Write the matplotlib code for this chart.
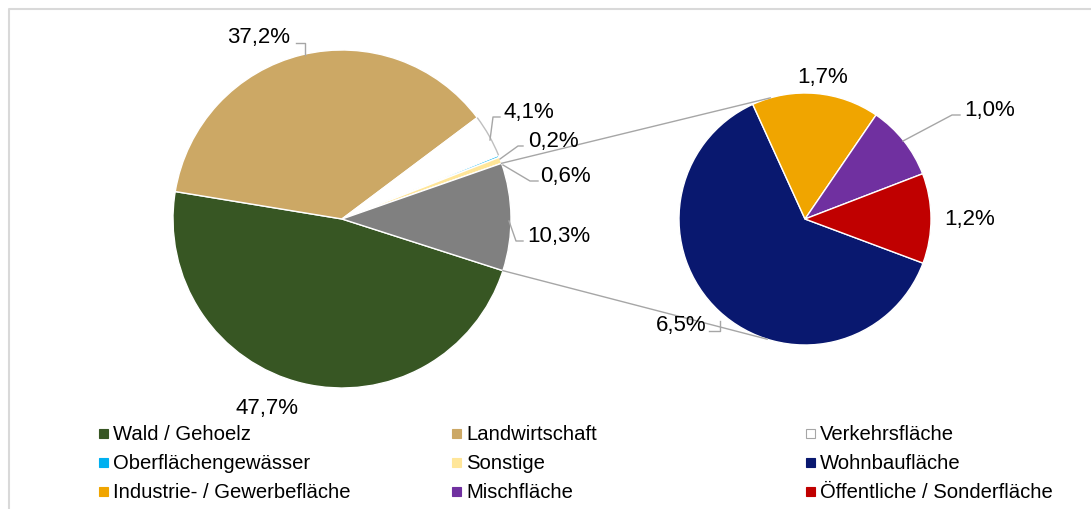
import numpy as np
import matplotlib
matplotlib.use("Agg")
import matplotlib.pyplot as plt
from matplotlib.patches import Rectangle, Arc

plt.rcParams['font.family'] = ['Liberation Sans', 'DejaVu Sans']

# main pie
main_labels = ['Wald / Gehoelz', 'Landwirtschaft', 'Verkehrsfläche',
               'Oberflächengewässer', 'Sonstige', 'Siedlung']
main_values = [47.7, 37.2, 4.1, 0.2, 0.6, 10.3]
main_colors = ['#375623', '#CCA865', '#FFFFFF', '#00B0F0', '#FFE699', '#808080']

# secondary pie (breakdown of the grey slice)
sub_labels = ['Wohnbaufläche', 'Industrie- / Gewerbefläche', 'Mischfläche',
              'Öffentliche / Sonderfläche']
sub_values = [6.5, 1.7, 1.0, 1.2]
sub_colors = ['#09186F', '#F0A500', '#7030A0', '#C00000']

legend_labels = ['Wald / Gehoelz', 'Landwirtschaft', 'Verkehrsfläche',
                 'Oberflächengewässer', 'Sonstige', 'Wohnbaufläche',
                 'Industrie- / Gewerbefläche', 'Mischfläche',
                 'Öffentliche / Sonderfläche']

# order in which the data labels are placed below
lab_values = [37.2, 4.1, 0.2, 0.6, 10.3, 47.7, 6.5, 1.7, 1.0, 1.2]

def fmt(v):
    return ('%.1f%%' % v).replace('.', ',')

W, H = 1091, 510
fig = plt.figure(figsize=(W / 100, H / 100), dpi=100)
ax = fig.add_axes([0, 0, 1, 1])

def P(x, y):
    # pixel (top-left origin) -> data
    return x, H - y

c1, r1 = P(342, 220), 169
c2, r2 = P(805, 220), 126

w1, _ = ax.pie(main_values, colors=main_colors, startangle=-17.8,
               counterclock=False, center=c1, radius=r1,
               wedgeprops=dict(edgecolor='white', linewidth=1))
w2, _ = ax.pie(sub_values, colors=sub_colors, startangle=-20.5,
               counterclock=False, center=c2, radius=r2,
               wedgeprops=dict(edgecolor='white', linewidth=1))

# grey outline on the white slice arc
wv = w1[2]
ax.add_patch(Arc(wv.center, 2 * wv.r, 2 * wv.r, theta1=wv.theta1,
                 theta2=wv.theta2, color='#bfbfbf', lw=1))

ax.set_xlim(0, W)
ax.set_ylim(0, H)
ax.set_aspect('equal')
ax.axis('off')

# connector lines between both pies
g = w1[-1]
for a1, a2 in [(g.theta2, 106.0), (g.theta1, -107.5)]:
    p1 = (c1[0] + r1 * np.cos(np.radians(a1)), c1[1] + r1 * np.sin(np.radians(a1)))
    p2 = (c2[0] + r2 * np.cos(np.radians(a2)), c2[1] + r2 * np.sin(np.radians(a2)))
    ax.plot([p1[0], p2[0]], [p1[1], p2[1]], color='#a6a6a6', lw=1)

# data labels: text centre x, baseline y, leader line
lab_pos = [(258.5, 43), (529, 118), (553, 147), (565, 182), (559, 242),
           (267, 414), (681, 331), (822.5, 83), (990, 116), (970, 225)]
leaders = [[(296, 44), (305, 44), (305, 56)],
           [(500, 118), (493, 118), (490, 141)],
           [(523, 147), (518, 147), (500, 160)],
           [(503, 166), (530, 182), (538, 182)],
           [(509, 222), (516, 242), (523, 242)],
           None,
           [(709, 332), (720, 332), (720, 322)],
           None,
           [(903, 142), (952, 116), (960, 116)],
           None]

for v, (x, y), ld in zip(lab_values, lab_pos, leaders):
    ax.text(*P(x, y), fmt(v), ha='center', va='baseline', fontsize=16,
            color='black')
    if ld:
        pts = [P(*p) for p in ld]
        ax.plot([p[0] for p in pts], [p[1] for p in pts], color='#a6a6a6', lw=1)

# legend (three equal columns like the original)
leg_colors = main_colors[:5] + sub_colors
col_x = [99, 452, 806]
row_y = [440.5, 469.5, 498.5]
for i, (lab, col) in enumerate(zip(legend_labels, leg_colors)):
    x0 = col_x[i % 3]
    y0 = row_y[i // 3]
    ec = '#a6a6a6' if col == '#FFFFFF' else col
    ax.add_patch(Rectangle(P(x0, y0 - 2), 9, 9, facecolor=col, edgecolor=ec, lw=0.8))
    ax.text(*P(x0 + 14, y0), lab, ha='left', va='baseline', fontsize=14.6,
            color='black')

# chart frame
ax.plot([9, 9, W + 5], [-5, H - 9.5, H - 9.5], color='#d9d9d9', lw=1.5,
        clip_on=False)

fig.savefig('out.png', dpi=100)
